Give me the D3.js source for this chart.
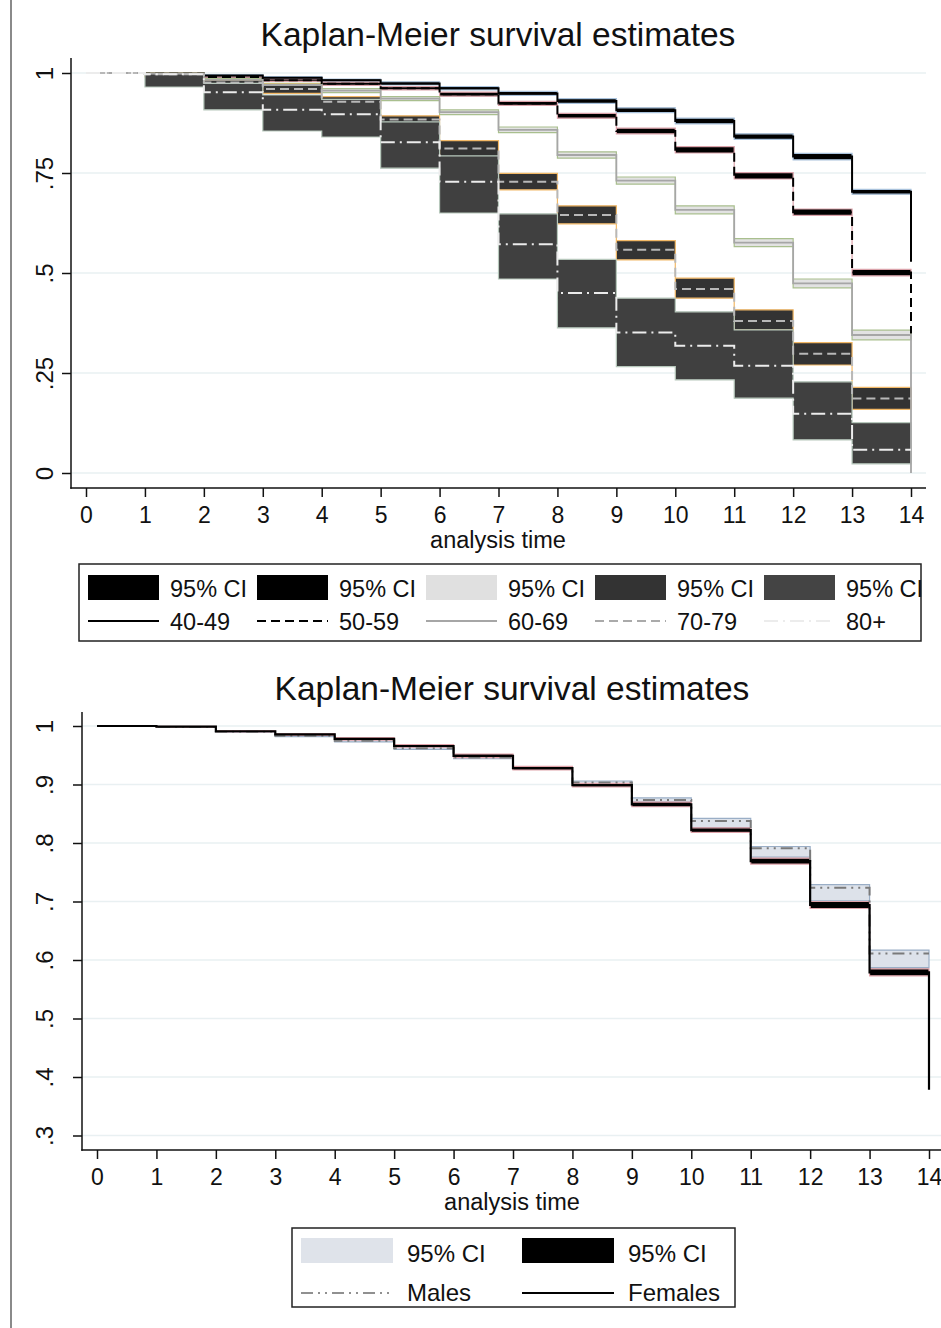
<!DOCTYPE html>
<html>
<head>
<meta charset="utf-8">
<script src="https://cdn.jsdelivr.net/npm/d3@7"></script>
<style>
  body { margin: 0; background: #fff; }
  svg { display: block; font-family: "Liberation Sans", Arial, sans-serif; }
</style>
</head>
<body>
<svg id="chart" width="941" height="1328"></svg>
<script>
// analysis time points
const times = [0, 1, 2, 3, 4, 5, 6, 7, 8, 9, 10, 11, 12, 13, 14];
const xTicks = [0, 1, 2, 3, 4, 5, 6, 7, 8, 9, 10, 11, 12, 13, 14];

// top chart: age groups
const ageGroups = ['40-49', '50-59', '60-69', '70-79', '80+'];
const est4049 = [1, .998, .994, .988, .982, .974, .962, .949, .930, .907, .880, .841, .791, .703, .528];
const lo4049 = [1, .997, .992, .985, .979, .970, .958, .944, .924, .901, .873, .834, .783, .697];
const hi4049 = [1, .999, .996, .991, .985, .978, .966, .954, .936, .913, .887, .848, .799, .709];
const est5059 = [1, .998, .990, .982, .973, .962, .947, .924, .893, .855, .808, .743, .652, .501, .349];
const lo5059 = [1, .997, .988, .979, .969, .958, .942, .919, .887, .848, .800, .735, .644, .493];
const hi5059 = [1, .999, .992, .985, .977, .966, .952, .929, .899, .862, .816, .751, .660, .509];
const est6069 = [1, .998, .983, .970, .956, .936, .902, .858, .795, .731, .658, .576, .474, .345, 0];
const lo6069 = [1, .997, .980, .966, .951, .931, .896, .851, .787, .722, .648, .566, .463, .333];
const hi6069 = [1, .999, .986, .974, .961, .941, .908, .865, .803, .740, .668, .586, .485, .357];
const est7079 = [1, .997, .976, .960, .928, .884, .811, .728, .645, .558, .460, .380, .298, .186, .186];
const lo7079 = [1, .990, .965, .949, .915, .870, .791, .708, .623, .533, .437, .358, .270, .159];
const hi7079 = [1, 1, .983, .972, .941, .893, .831, .749, .668, .581, .487, .408, .326, .214];
const est80 = [1, .997, .952, .908, .897, .827, .728, .572, .450, .351, .318, .268, .148, .058, .058];
const lo80 = [1, .965, .908, .855, .840, .762, .650, .485, .363, .266, .233, .187, .083, .023];
const hi80 = [1, 1, .974, .945, .934, .878, .793, .648, .534, .437, .403, .358, .228, .126];
const topYTicks = [0, .25, .5, .75, 1];
const topYLabels = ['0', '.25', '.5', '.75', '1'];

// bottom chart: sex
const sexes = ['Males', 'Females'];
const estMale = [1, .9985, .990, .9835, .975, .962, .946, .928, .9035, .8735, .8375, .791, .7235, .611, .611];
const loMale = [1, .998, .989, .982, .973, .960, .944, .926, .901, .870, .826, .776, .701, .587];
const hiMale = [1, .999, .991, .985, .977, .964, .948, .930, .906, .877, .842, .794, .729, .617];
const estFemale = [1, .9988, .991, .9857, .978, .9658, .949, .928, .899, .866, .822, .769, .694, .579, .378];
const loFemale = [1, .998, .990, .984, .976, .964, .946, .925, .896, .862, .818, .764, .688, .573];
const hiFemale = [1, .9995, .992, .987, .980, .968, .952, .931, .902, .870, .826, .774, .700, .585];
const botYTicks = [.3, .4, .5, .6, .7, .8, .9, 1];
const botYLabels = ['.3', '.4', '.5', '.6', '.7', '.8', '.9', '1'];

const svg = d3.select('#chart');
svg.append('rect').attr('width', 941).attr('height', 1328).attr('fill', '#fff');
// stray border on the left of the page
svg.append('line').attr('x1', 11).attr('x2', 11).attr('y1', 0).attr('y2', 1328)
  .attr('stroke', '#8a8a8a').attr('stroke-width', 2);

function stepArea(x, y, lo, hi) {
  // CI holds over the last interval up to t=14
  let pts = times.map((t, i) => ({ t: t, lo: lo[Math.min(i, lo.length - 1)], hi: hi[Math.min(i, hi.length - 1)] }));
  return d3.area().curve(d3.curveStepAfter)
    .x(d => x(d.t)).y0(d => y(d.lo)).y1(d => y(d.hi))(pts);
}

function stepLine(x, y, est) {
  let pts = times.map((t, i) => ({ t: t, v: est[i] }));
  return d3.line().curve(d3.curveStepAfter).x(d => x(d.t)).y(d => y(d.v))(pts);
}

function drawFrame(g, x, y, opts) {
  // gridlines
  g.selectAll('.grid').data(opts.yTicks).enter().append('line')
    .attr('x1', opts.axisX).attr('x2', opts.gridRight)
    .attr('y1', d => y(d)).attr('y2', d => y(d))
    .attr('stroke', '#e9f0f2').attr('stroke-width', 1.6);

  // y axis
  let yAxis = d3.axisLeft(y).tickValues(opts.yTicks).tickSize(9).tickSizeOuter(0)
    .tickFormat((d, i) => opts.yLabels[i]);
  let ya = g.append('g').attr('transform', 'translate(' + opts.axisX + ',0)').call(yAxis);
  ya.select('.domain').remove();
  ya.selectAll('.tick line').attr('stroke', '#111').attr('stroke-width', 1.5);
  ya.selectAll('.tick text').attr('font-size', 24).attr('fill', '#111')
    .attr('font-family', '"Liberation Sans", Arial, sans-serif')
    .attr('transform', 'rotate(-90)').attr('text-anchor', 'middle')
    .attr('x', 0).attr('y', -opts.yLabelGap).attr('dy', 0);

  // x axis
  let xAxis = d3.axisBottom(x).tickValues(xTicks).tickSize(9).tickSizeOuter(0);
  let xa = g.append('g').attr('transform', 'translate(0,' + opts.axisY + ')').call(xAxis);
  xa.select('.domain').remove();
  xa.selectAll('.tick line').attr('stroke', '#111').attr('stroke-width', 1.5);
  xa.selectAll('.tick text').attr('font-size', 23).attr('fill', '#111')
    .attr('font-family', '"Liberation Sans", Arial, sans-serif').attr('y', 35).attr('dy', 0);

  g.append('line').attr('x1', opts.axisX).attr('x2', opts.axisX)
    .attr('y1', opts.axisTop).attr('y2', opts.axisY + 0.75)
    .attr('stroke', '#111').attr('stroke-width', 1.5);
  g.append('line').attr('x1', opts.axisX - 0.75).attr('x2', opts.gridRight)
    .attr('y1', opts.axisY).attr('y2', opts.axisY)
    .attr('stroke', '#111').attr('stroke-width', 1.5);

  g.append('text').attr('x', opts.titleX).attr('y', opts.titleY)
    .attr('text-anchor', 'middle').attr('font-size', 33.5).attr('fill', '#111')
    .text('Kaplan-Meier survival estimates');
  g.append('text').attr('x', opts.titleX).attr('y', opts.axisY + 60)
    .attr('text-anchor', 'middle').attr('font-size', 23.5).attr('fill', '#111')
    .text('analysis time');
}

// ---------------- top chart ----------------
const xTop = d3.scaleLinear().domain([0, 14]).range([86, 911]);
const yTop = d3.scaleLinear().domain([0, 1]).range([473, 73]);
const gTop = svg.append('g');
drawFrame(gTop, xTop, yTop, {
  yTicks: topYTicks, yLabels: topYLabels, axisX: 71, axisY: 488, axisTop: 58,
  gridRight: 926, titleX: 498, titleY: 46, yLabelGap: 18
});

const topCI = [
  { lo: lo4049, hi: hi4049, fill: '#000', stroke: '#a9c2dc' },
  { lo: lo5059, hi: hi5059, fill: '#000', stroke: '#dba3ab' },
  { lo: lo6069, hi: hi6069, fill: '#e2e2e2', stroke: '#a9bf8e' },
  { lo: lo7079, hi: hi7079, fill: '#333', stroke: '#f2b866' },
  { lo: lo80, hi: hi80, fill: '#404040', stroke: '#b7c8bc' }
];
const topLines = [
  { est: est4049, color: '#000', width: 2, dash: null },
  { est: est5059, color: '#000', width: 2, dash: '9,5' },
  { est: est6069, color: '#a6a6a6', width: 1.8, dash: null },
  { est: est7079, color: '#b8b8b8', width: 2, dash: '9,5' },
  { est: est80, color: '#ececec', width: 2, dash: '14,5,2,5' }
];
topCI.forEach(c => {
  gTop.append('path').attr('d', stepArea(xTop, yTop, c.lo, c.hi))
    .attr('fill', c.fill).attr('stroke', c.stroke).attr('stroke-width', 1.2);
});
topLines.forEach(l => {
  gTop.append('path').attr('d', stepLine(xTop, yTop, l.est))
    .attr('fill', 'none').attr('stroke', l.color).attr('stroke-width', l.width)
    .attr('stroke-dasharray', l.dash);
});

// top legend
const legTop = svg.append('g');
legTop.append('rect').attr('x', 79).attr('y', 564).attr('width', 842).attr('height', 77)
  .attr('fill', '#fff').attr('stroke', '#222').attr('stroke-width', 1.5);
const legSwatch = ['#000', '#000', '#e0e0e0', '#333', '#444'];
ageGroups.forEach((name, i) => {
  let lx = 88 + i * 169;
  legTop.append('rect').attr('x', lx).attr('y', 575).attr('width', 71).attr('height', 25)
    .attr('fill', legSwatch[i]);
  legTop.append('text').attr('x', lx + 82).attr('y', 597).attr('font-size', 23.5).attr('fill', '#111')
    .text('95% CI');
  legTop.append('line').attr('x1', lx).attr('x2', lx + 71).attr('y1', 621).attr('y2', 621)
    .attr('stroke', i === 3 ? '#aaa' : (i === 2 ? '#a6a6a6' : topLines[i].color))
    .attr('stroke-width', 2).attr('stroke-dasharray', topLines[i].dash);
  legTop.append('text').attr('x', lx + 82).attr('y', 630).attr('font-size', 23.5).attr('fill', '#111')
    .text(name);
});

// ---------------- bottom chart ----------------
const xBot = d3.scaleLinear().domain([0, 14]).range([97, 929]);
const yBot = d3.scaleLinear().domain([.3, 1]).range([1135.5, 726]);
const gBot = svg.append('g');
drawFrame(gBot, xBot, yBot, {
  yTicks: botYTicks, yLabels: botYLabels, axisX: 82, axisY: 1150, axisTop: 712,
  gridRight: 941, titleX: 512, titleY: 700, yLabelGap: 29
});

const botCI = [
  { lo: loMale, hi: hiMale, fill: '#dde2ea', stroke: '#9aaec6' },
  { lo: loFemale, hi: hiFemale, fill: '#000', stroke: '#e0a3aa' }
];
const botLines = [
  { est: estMale, color: '#7a7a7a', width: 2, dash: '12,5,2,5,2,5' },
  { est: estFemale, color: '#000', width: 2.2, dash: null }
];
botCI.forEach(c => {
  gBot.append('path').attr('d', stepArea(xBot, yBot, c.lo, c.hi))
    .attr('fill', c.fill).attr('stroke', c.stroke).attr('stroke-width', 1.2);
});
botLines.forEach(l => {
  gBot.append('path').attr('d', stepLine(xBot, yBot, l.est))
    .attr('fill', 'none').attr('stroke', l.color).attr('stroke-width', l.width)
    .attr('stroke-dasharray', l.dash);
});

// bottom legend
const legBot = svg.append('g');
legBot.append('rect').attr('x', 292).attr('y', 1228).attr('width', 443).attr('height', 79)
  .attr('fill', '#fff').attr('stroke', '#222').attr('stroke-width', 1.5);
const legBotSwatch = ['#dfe3ea', '#000'];
const legBotLine = ['#909090', '#000'];
sexes.forEach((name, i) => {
  let lx = 301 + i * 221;
  legBot.append('rect').attr('x', lx).attr('y', 1238).attr('width', 92).attr('height', 25)
    .attr('fill', legBotSwatch[i]);
  legBot.append('text').attr('x', lx + 106).attr('y', 1262).attr('font-size', 24).attr('fill', '#111')
    .text('95% CI');
  legBot.append('line').attr('x1', lx).attr('x2', lx + 92).attr('y1', 1293).attr('y2', 1293)
    .attr('stroke', legBotLine[i]).attr('stroke-width', 2).attr('stroke-dasharray', botLines[i].dash);
  legBot.append('text').attr('x', lx + 106).attr('y', 1301).attr('font-size', 24).attr('fill', '#111')
    .text(name);
});
</script>
</body>
</html>
